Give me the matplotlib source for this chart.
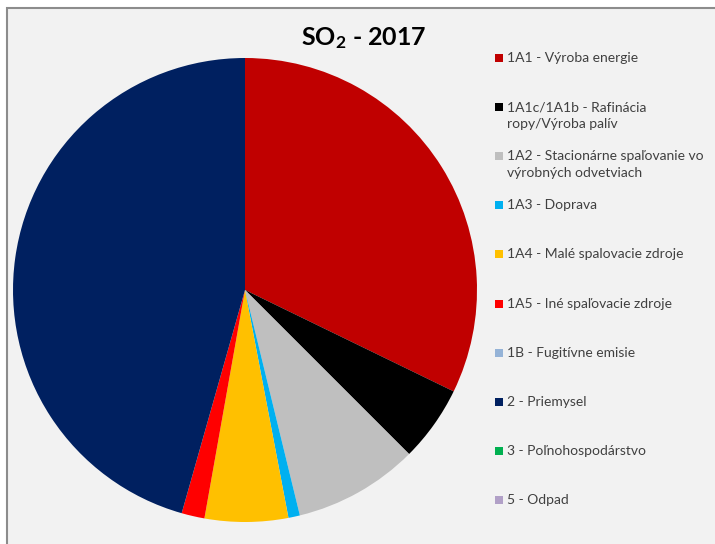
import matplotlib.pyplot as plt
from matplotlib.patches import Rectangle

# SO2 emission shares by sector (%), 2017
sectors = [
    "1A1 - Výroba energie",
    "1A1c/1A1b - Rafinácia\nropy/Výroba palív",
    "1A2 - Stacionárne spaľovanie vo\nvýrobných odvetviach",
    "1A3 - Doprava",
    "1A4 - Malé spalovacie zdroje",
    "1A5 - Iné spaľovacie zdroje",
    "1B - Fugitívne emisie",
    "2 - Priemysel",
    "3 - Poľnohospodárstvo",
    "5 - Odpad",
]
shares = [32.2, 5.3, 8.7, 0.8, 5.8, 1.6, 0.0, 45.6, 0.0, 0.0]
colors = [
    "#C00000", "#000000", "#BFBFBF", "#00B0F0", "#FFC000",
    "#FF0000", "#95B3D7", "#002060", "#00B050", "#B1A0C7",
]

plt.rcParams["font.family"] = ["Lato", "DejaVu Sans"]
plt.rcParams["mathtext.fontset"] = "custom"
plt.rcParams["mathtext.rm"] = "Lato"
plt.rcParams["mathtext.bf"] = "Lato:bold"

W, H = 715, 544
fig = plt.figure(figsize=(W / 100, H / 100), dpi=100)
fig.patch.set_facecolor("white")

# chart area frame, cut off at the right and bottom edge
fig.patches.append(Rectangle((7 / W, -0.05), 1.05, (H - 8) / H + 0.05,
                             transform=fig.transFigure, facecolor="#F2F2F2",
                             edgecolor="#8C8C8C", linewidth=1.5, zorder=-5))

# pie
cx, cy, r = 245, 290, 232
ax = fig.add_axes([(cx - r) / W, (H - cy - r) / H, 2 * r / W, 2 * r / H])
ax.pie(shares, colors=colors, startangle=90, counterclock=False,
       wedgeprops=dict(linewidth=0))
ax.set_xlim(-1, 1)
ax.set_ylim(-1, 1)
ax.set_aspect("equal")
ax.axis("off")

fig.text(364 / W, (H - 38) / H, r"$\mathbf{SO_2}$ - 2017", fontsize=18,
         fontweight="bold", ha="center", va="center", color="black")

# legend: one entry every ~49 px, text top aligned with its marker
y0, step = 58, 49.1
for i, (label, color) in enumerate(zip(sectors, colors)):
    y = y0 + i * step
    fig.patches.append(Rectangle((495 / W, (H - y - 4) / H), 8 / W, 8 / H,
                                 transform=fig.transFigure, facecolor=color,
                                 edgecolor="none"))
    fig.text(507 / W, (H - y + 6) / H, label, fontsize=10, color="#404040",
             ha="left", va="top", linespacing=1.45)

fig.savefig("out.png", dpi=100)
